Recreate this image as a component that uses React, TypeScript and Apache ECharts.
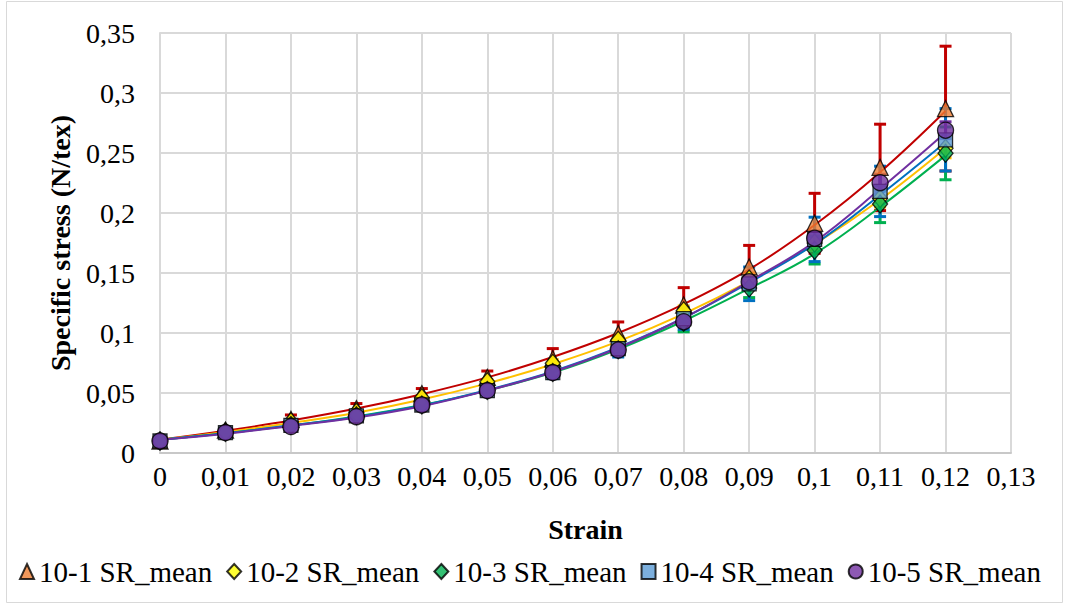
import React, { useEffect, useRef } from "react";
import * as echarts from "echarts";

const strain = [0, 0.01, 0.02, 0.03, 0.04, 0.05, 0.06, 0.07, 0.08, 0.09, 0.1, 0.11, 0.12];

const seriesNames = ["10-1 SR_mean", "10-2 SR_mean", "10-3 SR_mean", "10-4 SR_mean", "10-5 SR_mean"];

// mean values (markers)
const mean1 = [0.010, 0.019, 0.028, 0.037, 0.0495, 0.063, 0.0785, 0.0995, 0.1233, 0.155, 0.1914, 0.238, 0.287];
const mean2 = [0.010, 0.018, 0.026, 0.034, 0.046, 0.0594, 0.0747, 0.094, 0.1185, 0.145, 0.175, 0.212, 0.254];
const mean3 = [0.010, 0.017, 0.023, 0.031, 0.040, 0.052, 0.067, 0.086, 0.109, 0.1375, 0.169, 0.2075, 0.2497];
const mean4 = [0.010, 0.017, 0.023, 0.031, 0.040, 0.052, 0.067, 0.087, 0.112, 0.141, 0.178, 0.218, 0.261];
const mean5 = [0.010, 0.017, 0.022, 0.0303, 0.040, 0.052, 0.067, 0.0858, 0.1094, 0.1428, 0.179, 0.2253, 0.269];

// standard deviations (error bars)
const err1 = [0.0005, 0.001, 0.0037, 0.0042, 0.0042, 0.0053, 0.0085, 0.0097, 0.0145, 0.018, 0.025, 0.036, 0.052];
const err2 = [0.0005, 0.001, 0.001, 0.0015, 0.002, 0.002, 0.003, 0.003, 0.004, 0.005, 0.006, 0.007, 0.008];
const err3 = [0.0005, 0.001, 0.001, 0.0015, 0.002, 0.003, 0.003, 0.004, 0.008, 0.008, 0.0115, 0.0155, 0.022];
const err4 = [0.0005, 0.001, 0.0015, 0.002, 0.003, 0.003, 0.005, 0.007, 0.009, 0.014, 0.0185, 0.021, 0.026];
const err5 = [0.0005, 0.001, 0.001, 0.0015, 0.002, 0.002, 0.003, 0.003, 0.004, 0.005, 0.006, 0.007, 0.007];

// trendline values
const trend1 = [0.011, 0.0185, 0.027, 0.037, 0.049, 0.063, 0.080, 0.100, 0.124, 0.153, 0.190, 0.234, 0.285];
const trend2 = [0.011, 0.0175, 0.025, 0.0335, 0.0445, 0.058, 0.074, 0.093, 0.116, 0.143, 0.174, 0.211, 0.254];
const trend3 = [0.011, 0.0165, 0.023, 0.0305, 0.040, 0.052, 0.067, 0.0865, 0.110, 0.137, 0.166, 0.205, 0.248];
const trend4 = [0.011, 0.0165, 0.023, 0.030, 0.0395, 0.0525, 0.068, 0.088, 0.1125, 0.142, 0.174, 0.215, 0.259];
const trend5 = [0.011, 0.016, 0.0225, 0.0295, 0.039, 0.052, 0.0675, 0.0875, 0.1125, 0.143, 0.176, 0.220, 0.267];

const xTicks = { min: 0, max: 0.13, interval: 0.01 };
const yTicks = { min: 0, max: 0.35, interval: 0.05 };

const means = [mean1, mean2, mean3, mean4, mean5];
const errs = [err1, err2, err3, err4, err5];
const trends = [trend1, trend2, trend3, trend4, trend5];
const symbols = ["triangle", "diamond", "diamond", "rect", "circle"];
const markerColors = ["#ED7D31", "#FFFF00", "#00B050", "#5B9BD5", "#7030A0"];
const lineColors = ["#C00000", "#FFC000", "#00B050", "#0070C0", "#7030A0"];
const errColors = ["#C00000", "#FFC000", "#00B050", "#0070C0", "#7030A0"];

const FONT = "Liberation Serif, Times New Roman, serif";

const fmt = (v: number) => String(+Number(v).toFixed(2)).replace(".", ",");

export default function App() {
  const ref = useRef<HTMLDivElement>(null);
  useEffect(() => {
    document.body.style.margin = "0";
    if (!ref.current) return;
    const chart = echarts.init(ref.current, undefined, { renderer: "svg" });
    const series: any[] = [];
    for (let i = 0; i < 5; i++) {
      const color = errColors[i];
      series.push({
        name: seriesNames[i] + " err",
        type: "custom",
        z: 2,
        silent: true,
        data: strain.map((x, k) => [x, means[i][k], errs[i][k]]),
        encode: { x: 0, y: 1 },
        renderItem: (params: any, api: any) => {
          const x = api.value(0);
          const y = api.value(1);
          const e = api.value(2);
          const top = api.coord([x, y + e]);
          const bot = api.coord([x, y - e]);
          const hw = 6;
          const st = { stroke: color, lineWidth: 3 };
          return {
            type: "group",
            children: [
              { type: "line", shape: { x1: top[0], y1: top[1], x2: bot[0], y2: bot[1] }, style: st },
              { type: "line", shape: { x1: top[0] - hw, y1: top[1], x2: top[0] + hw, y2: top[1] }, style: st },
              { type: "line", shape: { x1: bot[0] - hw, y1: bot[1], x2: bot[0] + hw, y2: bot[1] }, style: st },
            ],
          };
        },
      });
    }
    for (let i = 0; i < 5; i++) {
      series.push({
        name: seriesNames[i] + " trend",
        type: "line",
        z: 3,
        smooth: 0.4,
        symbol: "none",
        silent: true,
        data: strain.map((x, k) => [x, trends[i][k]]),
        lineStyle: { color: lineColors[i], width: 2 },
        itemStyle: { color: lineColors[i] },
      });
    }
    for (let i = 0; i < 5; i++) {
      series.push({
        name: seriesNames[i],
        type: "scatter",
        z: 4 + i,
        symbol: symbols[i],
        symbolSize: symbols[i] === "diamond" ? [15, 18] : symbols[i] === "rect" ? 14 : 16,
        data: strain.map((x, k) => [x, means[i][k]]),
        itemStyle: { color: markerColors[i], borderColor: "#000", borderWidth: 1.3 },
      });
    }
    chart.setOption({
      animation: false,
      backgroundColor: "#fff",
      graphic: [
        {
          type: "rect",
          shape: { x: 6.5, y: 1.5, width: 1056, height: 601 },
          style: { fill: "none", stroke: "#D9D9D9", lineWidth: 1 },
          z: -1,
        },
      ],
      grid: { left: 160, right: 54, top: 33, bottom: 152 },
      legend: {
        data: seriesNames,
        left: 14,
        top: 552,
        itemWidth: 14,
        itemHeight: 15,
        itemGap: 14,
        textStyle: { fontFamily: FONT, fontSize: 29, color: "#000" },
      },
      xAxis: {
        type: "value",
        min: xTicks.min,
        max: xTicks.max,
        interval: xTicks.interval,
        name: "Strain",
        nameLocation: "middle",
        nameGap: 62,
        nameTextStyle: { fontFamily: FONT, fontSize: 28, fontWeight: "bold", color: "#000" },
        axisLine: { show: true, lineStyle: { color: "#C8C8C8", width: 2 } },
        axisTick: { show: false },
        axisLabel: { formatter: fmt, fontFamily: FONT, fontSize: 28, color: "#000", margin: 9 },
        splitLine: { show: true, lineStyle: { color: "#D9D9D9", width: 2 } },
      },
      yAxis: {
        type: "value",
        min: yTicks.min,
        max: yTicks.max,
        interval: yTicks.interval,
        name: "Specific stress (N/tex)",
        nameLocation: "middle",
        nameGap: 86,
        nameTextStyle: { fontFamily: FONT, fontSize: 28, fontWeight: "bold", color: "#000" },
        axisLine: { show: true, lineStyle: { color: "#D9D9D9", width: 2 } },
        axisTick: { show: false },
        axisLabel: { formatter: fmt, fontFamily: FONT, fontSize: 28, color: "#000", margin: 25 },
        splitLine: { show: true, lineStyle: { color: "#D9D9D9", width: 2 } },
      },
      series,
    });
    return () => chart.dispose();
  }, []);
  return <div ref={ref} style={{ width: 1065, height: 605 }} />;
}
